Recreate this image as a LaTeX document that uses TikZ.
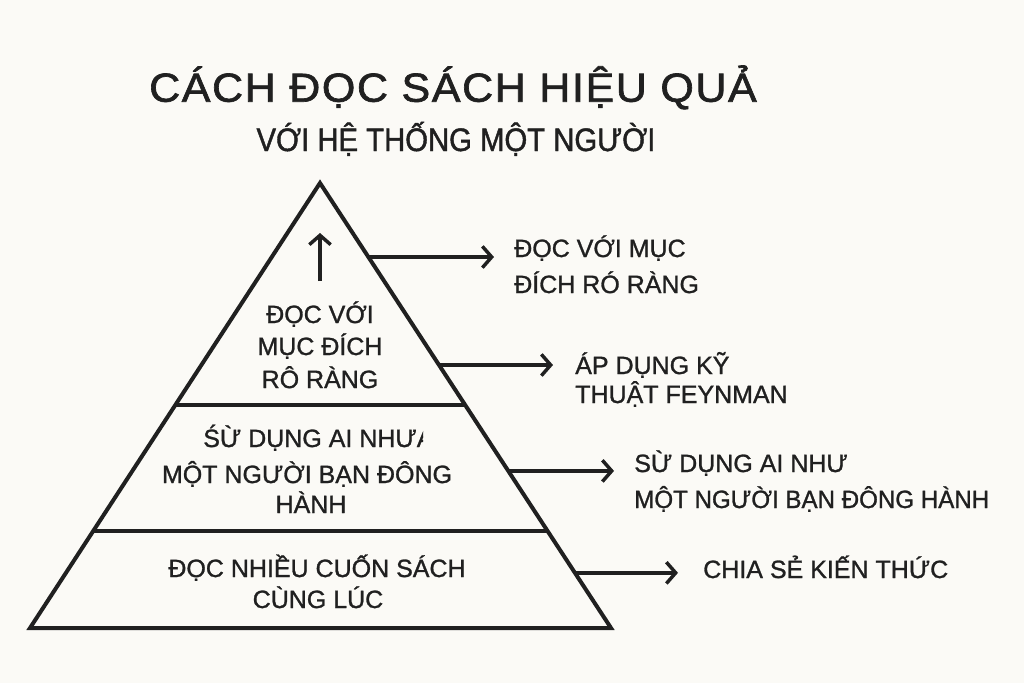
\documentclass[tikz,border=0pt]{standalone}
\usepackage{fontspec}
\setmainfont[FakeBold=1.1]{Liberation Sans}
\newfontfamily\titlefont[LetterSpace=4,FakeStretch=1.06,FakeBold=1.6]{Liberation Sans}
\newfontfamily\subfont[FakeStretch=0.9,FakeBold=1.3]{Liberation Sans}
\newfontfamily\narrowfont[FakeStretch=0.965,FakeBold=1.1]{Liberation Sans}
\usetikzlibrary{arrows.meta,calc}
\definecolor{bg}{HTML}{FBFAF6}
\definecolor{ink}{HTML}{202020}
\begin{document}
\begin{tikzpicture}[x=0.75pt,y=-0.75pt,
  edge/.style={draw=ink,line width=3pt,line join=miter,line cap=butt},
  arr/.style={draw=ink,line width=2.6pt,-{Straight Barb[length=7pt,width=16pt,line width=2.6pt]}},
  lbl/.style={text=ink,font=\fontsize{18.75}{22}\selectfont,inner sep=0pt,anchor=base},
  side/.style={lbl,anchor=base west},
]
\fill[bg] (0,0) rectangle (1024,683);
\useasboundingbox (0,0) rectangle (1024,683);

% title
\node[text=ink,inner sep=0pt,anchor=base,font=\titlefont\fontsize{30.4}{34}\selectfont] (title) at (453,101.7) {CÁCH ĐỌC SÁCH HIỆU QUẢ};
\node[text=ink,inner sep=0pt,anchor=base,font=\subfont\fontsize{24.4}{28}\selectfont] (subtitle) at (456,151) {VỚI HỆ THỐNG MỘT NGƯỜI};

% pyramid
\coordinate (A) at (320,183);
\coordinate (L) at (30,628);
\coordinate (R) at (611,628);
\draw[edge] (A) -- (L) -- (R) -- cycle;
\coordinate (d1l) at ($(A)!0.4989!(L)$);
\coordinate (d1r) at ($(A)!0.4989!(R)$);
\coordinate (d2l) at ($(A)!0.782!(L)$);
\coordinate (d2r) at ($(A)!0.782!(R)$);
\draw[edge] (d1l) -- (d1r);
\draw[edge] (d2l) -- (d2r);

% up arrow
\coordinate (u0) at (320,281);
\coordinate (u1) at (320,233);
\draw[arr] (u0) -- (u1);

% pyramid labels
\node[lbl] (t1) at (320,323) {ĐỌC VỚI};
\node[lbl] (t2) at (320,355) {MỤC ĐÍCH};
\node[lbl] (t3) at (320,388) {RÔ RÀNG};
\begin{scope}
\clip (150,415) rectangle (423,455);
\node[side] (m1) at (203,447) {ŚỪ DỤNG AI NHƯA};
\end{scope}
\node[lbl] (m2) at (307,483) {MỘT NGƯỜI BẠN ĐÔNG};
\node[lbl] (m3) at (311,513) {HÀNH};
\node[lbl] (b1) at (317,577) {ĐỌC NHIỀU CUỐN SÁCH};
\node[lbl] (b2) at (318,608) {CÙNG LÚC};

% side labels
\node[side] (r1a) at (514,257) {ĐỌC VỚI MỤC};
\node[side] (r1b) at (514,293) {ĐÍCH RÓ RÀNG};
\node[side] (r2a) at (575,374) {ÁP DỤNG KỸ};
\node[side] (r2b) at (575,403) {THUẬT FEYNMAN};
\node[side] (r3a) at (634,472) {SỪ DỤNG AI NHƯ};
\node[side,font=\narrowfont\fontsize{18.75}{22}\selectfont] (r3b) at (634,508) {MỘT NGƯỜI BẠN ĐÔNG HÀNH};
\node[side] (r4) at (703,578) {CHIA SẺ KIẾN THỨC};

% arrows
\coordinate (s1) at ($(A)!0.1663!(R)$);
\coordinate (s2) at ($(A)!0.409!(R)$);
\coordinate (s3) at ($(A)!0.647!(R)$);
\coordinate (s4) at ($(A)!0.876!(R)$);
\coordinate (e1) at (494,0);
\coordinate (e2) at (553,0);
\coordinate (e3) at (614,0);
\coordinate (e4) at (678,0);
\draw[arr] (s1) -- (s1 -| e1);
\draw[arr] (s2) -- (s2 -| e2);
\draw[arr] (s3) -- (s3 -| e3);
\draw[arr] (s4) -- (s4 -| e4);
\end{tikzpicture}
\end{document}
